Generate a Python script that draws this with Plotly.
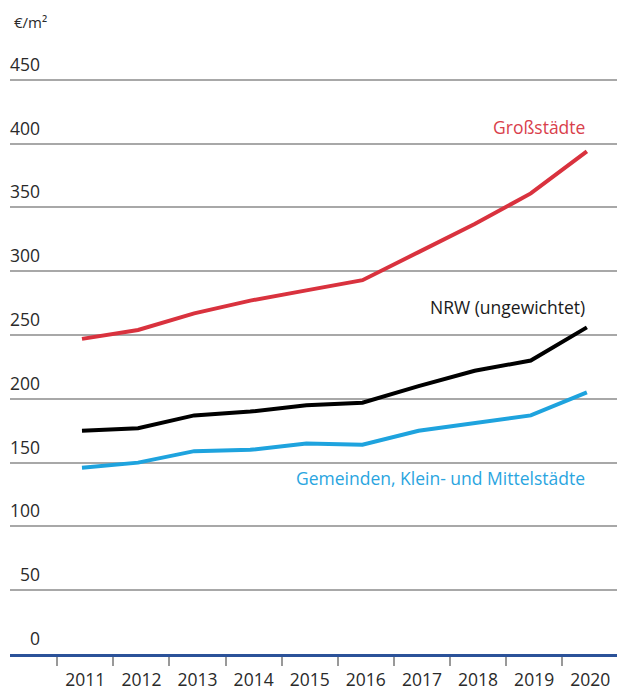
import plotly.graph_objects as go

years = [2011, 2012, 2013, 2014, 2015, 2016, 2017, 2018, 2019, 2020]
grossstaedte = [247, 254, 267, 277, 285, 293, 315, 337, 361, 394]
nrw = [175, 177, 187, 190, 195, 197, 210, 222, 230, 256]
gemeinden = [146, 150, 159, 160, 165, 164, 175, 181, 187, 205]
y_ticks = [0, 50, 100, 150, 200, 250, 300, 350, 400, 450]

series_names = ["Großstädte", "NRW (ungewichtet)", "Gemeinden, Klein- und Mittelstädte"]
series_values = [grossstaedte, nrw, gemeinden]
line_colors = ["#d9323e", "#000000", "#1ea3de"]
label_colors = ["#d9404b", "#1a1a1a", "#2aa5df"]
label_y = [413, 272, 138]

FONT = "Open Sans"

fig = go.Figure()
for name, vals, col in zip(series_names, series_values, line_colors):
    fig.add_trace(go.Scatter(x=years, y=vals, mode="lines", name=name,
                             line=dict(color=col, width=4), showlegend=False))

annotations = []
for name, ly, col in zip(series_names, label_y, label_colors):
    annotations.append(dict(x=years[-1], y=ly, xref="x", yref="y", text=name,
                            showarrow=False, xanchor="right", yanchor="middle",
                            font=dict(family=FONT, size=17.5, color=col)))
for v in y_ticks:
    annotations.append(dict(x=32 / 607, y=v, xref="paper", yref="y", text=str(v),
                            showarrow=False, xanchor="right", yanchor="bottom", yshift=2,
                            font=dict(family=FONT, size=17.5, color="#2a2a2a")))
annotations.append(dict(x=2 / 607, y=1 + 18 / 616, xref="paper", yref="paper", text="€/m²",
                        showarrow=False, xanchor="left", yanchor="middle",
                        font=dict(family=FONT, size=15, color="#2a2a2a")))

fig.update_layout(
    width=617, height=691,
    margin=dict(l=10, r=0, t=40, b=35),
    paper_bgcolor="white", plot_bgcolor="white",
    annotations=annotations,
    xaxis=dict(range=[2009.717, 2020.537], tickvals=[y + 0.06 for y in years],
               ticktext=[str(y) for y in years],
               ticks="", showgrid=False, zeroline=False,
               showline=True, linecolor="#2b5299", linewidth=3,
               tickfont=dict(family=FONT, size=17.5, color="#2a2a2a"),
               ticklabelstandoff=8,
               minor=dict(ticks="outside", tick0=2010.56, dtick=1, ticklen=9,
                          tickcolor="#999999", tickwidth=1.5, showgrid=False)),
    yaxis=dict(range=[0, 481.25], tickvals=y_ticks, showticklabels=False,
               showgrid=True, gridcolor="#a8a8a8", gridwidth=1.5, zeroline=False,
               ticks="", showline=False),
)

fig.write_html("out.html", config={"displayModeBar": False},
               post_script="document.body.style.margin='0';document.body.style.overflow='hidden';")
